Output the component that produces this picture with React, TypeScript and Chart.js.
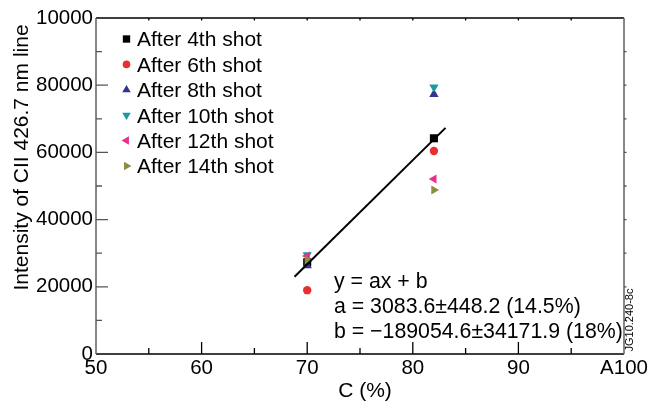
import React, { useEffect, useRef } from "react";
import { Chart, registerables } from "chart.js";

Chart.register(...registerables);

// ---- data ----
const xValues = [70, 82];
const shot4 = [27300, 64200];
const shot6 = [19000, 60400];
const shot8 = [26300, 77300];
const shot10 = [29500, 79400];
const shot12 = [29200, 52100];
const shot14 = [28000, 48800];
const fitX = [68.8, 83.1];
const fitY = [23000, 67300];

const seriesNames = [
  "After 4th shot",
  "After 6th shot",
  "After 8th shot",
  "After 10th shot",
  "After 12th shot",
  "After 14th shot",
];
const seriesValues = [shot4, shot6, shot8, shot10, shot12, shot14];
const seriesColors = ["#000000", "#e8312f", "#2f3590", "#1a9a9e", "#e8308a", "#8e8d3e"];
const seriesStyles = ["rect", "circle", "triangle", "triangle", "triangle", "triangle"];
const seriesRotations = [0, 0, 0, 180, 270, 90];
const seriesRadius = [5.7, 4.2, 5.4, 5.4, 5.2, 5.2];
const legendRadius = [5.2, 3.8, 4.9, 4.9, 4.9, 4.9];

const xTickLabels = ["50", "", "60", "", "70", "", "80", "", "90", "", "A100"];
const yTickLabels = ["0", "", "20000", "", "40000", "", "60000", "", "80000", "", "10000"];

const xTitle = "C (%)";
const yTitle = "Intensity of CII 426.7 nm line";
const equationLines = [
  "y = ax + b",
  "a = 3083.6\u00b1448.2 (14.5%)",
  "b = \u2212189054.6\u00b134171.9 (18%)",
];
const figureId = "JG10.240-8c";

const FONT = "'Liberation Sans', Arial, Helvetica, sans-serif";

function drawMarker(
  ctx: CanvasRenderingContext2D,
  style: string,
  rot: number,
  x: number,
  y: number,
  r: number,
  color: string
) {
  ctx.save();
  ctx.translate(x, y);
  ctx.rotate((rot * Math.PI) / 180);
  ctx.fillStyle = color;
  ctx.beginPath();
  if (style === "rect") {
    const s = r * Math.SQRT1_2;
    ctx.rect(-s, -s, 2 * s, 2 * s);
  } else if (style === "circle") {
    ctx.arc(0, 0, r, 0, Math.PI * 2);
  } else {
    ctx.moveTo(0, -r);
    ctx.lineTo(r * 0.8660254, r * 0.5);
    ctx.lineTo(-r * 0.8660254, r * 0.5);
    ctx.closePath();
  }
  ctx.fill();
  ctx.restore();
}

const decorPlugin = {
  id: "decor",
  afterDatasetsDraw(chart: any) {
    const ctx: CanvasRenderingContext2D = chart.ctx;
    const { left, right, top, bottom } = chart.chartArea;
    const xs = chart.scales.x;
    const ys = chart.scales.y;
    ctx.save();

    // frame
    ctx.lineCap = "butt";
    ctx.strokeStyle = "#000";
    ctx.lineWidth = 1.5;
    ctx.beginPath();
    ctx.moveTo(left, top);
    ctx.lineTo(right, top);
    ctx.moveTo(left, bottom);
    ctx.lineTo(right, bottom);
    ctx.stroke();
    ctx.strokeStyle = "#6a6a6a";
    ctx.lineWidth = 1.6;
    ctx.beginPath();
    ctx.moveTo(left, top);
    ctx.lineTo(left, bottom);
    ctx.moveTo(right, top);
    ctx.lineTo(right, bottom);
    ctx.stroke();

    // x ticks (bottom, inward) and top small ticks
    ctx.strokeStyle = "#000";
    ctx.lineWidth = 1.3;
    ctx.beginPath();
    xs.ticks.forEach((t: any, i: number) => {
      const px = xs.getPixelForValue(t.value);
      const len = i % 2 === 0 ? 12 : 6;
      if (i > 0 && i < xs.ticks.length - 1) {
        ctx.moveTo(px, bottom);
        ctx.lineTo(px, bottom - len);
        ctx.moveTo(px, top);
        ctx.lineTo(px, top + 2.5);
      }
    });
    ctx.stroke();

    // y ticks (left, inward) and right small ticks
    ctx.strokeStyle = "#555";
    ctx.beginPath();
    ys.ticks.forEach((t: any, i: number) => {
      const py = ys.getPixelForValue(t.value);
      const len = i % 2 === 0 ? 12 : 6;
      if (i > 0 && i < ys.ticks.length - 1) {
        ctx.moveTo(left, py);
        ctx.lineTo(left + len, py);
        ctx.moveTo(right, py);
        ctx.lineTo(right + 2.5, py);
      }
    });
    ctx.stroke();

    // legend
    ctx.fillStyle = "#000";
    ctx.font = `21px ${FONT}`;
    ctx.textAlign = "left";
    ctx.textBaseline = "alphabetic";
    seriesNames.forEach((name, i) => {
      const cy = 39 + i * 25.4;
      drawMarker(ctx, seriesStyles[i], seriesRotations[i], 126.5, cy, legendRadius[i], seriesColors[i]);
      ctx.fillStyle = "#000";
      ctx.fillText(name, 137, cy + 7.3);
    });

    // equation
    ctx.font = `21.3px ${FONT}`;
    equationLines.forEach((line, i) => {
      ctx.fillText(line, 334, 288 + i * 25);
    });

    // x title
    ctx.font = `21px ${FONT}`;
    ctx.textAlign = "center";
    ctx.fillText(xTitle, 365, 397);

    // y title
    ctx.save();
    ctx.translate(28, 157.5);
    ctx.rotate(-Math.PI / 2);
    ctx.textAlign = "center";
    ctx.fillText(yTitle, 0, 0);
    ctx.restore();

    // figure id
    ctx.save();
    ctx.translate(633, 320);
    ctx.rotate(-Math.PI / 2);
    ctx.font = `11px ${FONT}`;
    ctx.textAlign = "center";
    ctx.fillText(figureId, 0, 0);
    ctx.restore();

    ctx.restore();
  },
};

export default function App() {
  const canvasRef = useRef<HTMLCanvasElement | null>(null);

  useEffect(() => {
    document.body.style.margin = "0";
    const canvas = canvasRef.current;
    if (!canvas) return;

    const datasets: any[] = seriesNames.map((name, i) => ({
      label: name,
      data: xValues.map((x, j) => ({ x, y: seriesValues[i][j] })),
      pointStyle: seriesStyles[i],
      rotation: seriesRotations[i],
      pointRadius: seriesRadius[i],
      pointBackgroundColor: seriesColors[i],
      pointBorderColor: seriesColors[i],
      pointBorderWidth: 0,
      backgroundColor: seriesColors[i],
      borderColor: seriesColors[i],
      showLine: false,
      order: 6 - i,
    }));
    datasets.push({
      label: "fit",
      data: fitX.map((x, j) => ({ x, y: fitY[j] })),
      showLine: true,
      borderColor: "#000",
      borderWidth: 2,
      pointRadius: 0,
      order: 0,
    });

    const chart = new Chart(canvas, {
      type: "scatter",
      data: { datasets },
      options: {
        responsive: false,
        animation: false,
        events: [],
        layout: { padding: { top: 18, right: 28, left: 0, bottom: 0 } },
        plugins: {
          legend: { display: false },
          tooltip: { enabled: false },
        },
        scales: {
          x: {
            type: "linear",
            min: 50,
            max: 100,
            grid: { display: false, drawTicks: false },
            border: { display: false },
            afterFit: (scale: any) => {
              scale.height = 55;
            },
            ticks: {
              stepSize: 5,
              padding: 2,
              autoSkip: false,
              maxRotation: 0,
              color: "#000",
              font: { family: FONT, size: 20.5 },
              callback: (_v: any, i: number) => xTickLabels[i],
            },
          },
          y: {
            type: "linear",
            min: 0,
            max: 100000,
            grid: { display: false, drawTicks: false },
            border: { display: false },
            afterFit: (scale: any) => {
              scale.width = 96;
            },
            ticks: {
              stepSize: 10000,
              padding: 3,
              autoSkip: false,
              color: "#000",
              font: { family: FONT, size: 20.5 },
              callback: (_v: any, i: number) => yTickLabels[i],
            },
          },
        },
      },
      plugins: [decorPlugin],
    });

    return () => chart.destroy();
  }, []);

  return (
    <div style={{ position: "absolute", left: 0, top: 0, width: 652, height: 409 }}>
      <canvas ref={canvasRef} width={652} height={409} style={{ width: 652, height: 409 }} />
    </div>
  );
}
